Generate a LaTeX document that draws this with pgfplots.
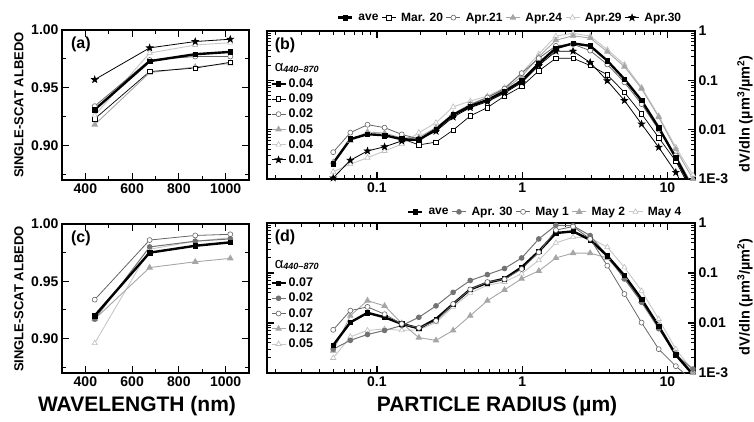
\documentclass[border=0pt]{standalone}
\usepackage{fontspec}
\setmainfont{Liberation Sans}
\usepackage{pgfplots}
\usepackage{pgfplotstable}
\pgfplotsset{compat=1.18}

\pgfdeclareplotmark{fstar}{%
  \pgfpathmoveto{\pgfpointpolar{90}{1.35\pgfplotmarksize}}%
  \pgfpathlineto{\pgfpointpolar{126}{0.55\pgfplotmarksize}}%
  \pgfpathlineto{\pgfpointpolar{162}{1.35\pgfplotmarksize}}%
  \pgfpathlineto{\pgfpointpolar{198}{0.55\pgfplotmarksize}}%
  \pgfpathlineto{\pgfpointpolar{234}{1.35\pgfplotmarksize}}%
  \pgfpathlineto{\pgfpointpolar{270}{0.55\pgfplotmarksize}}%
  \pgfpathlineto{\pgfpointpolar{306}{1.35\pgfplotmarksize}}%
  \pgfpathlineto{\pgfpointpolar{342}{0.55\pgfplotmarksize}}%
  \pgfpathlineto{\pgfpointpolar{18}{1.35\pgfplotmarksize}}%
  \pgfpathlineto{\pgfpointpolar{54}{0.55\pgfplotmarksize}}%
  \pgfpathclose\pgfusepathqfillstroke}

\pgfplotsset{
 base/.style={scale only axis, axis line style={line width=1.5pt},
   tick align=inside, tick pos=both,
   major tick length=7pt, minor tick length=4pt,
   every tick/.append style={black, line width=1.2pt},
   every minor tick/.append style={black, line width=1pt},
   ticklabel style={font=\bfseries\fontsize{14}{14}\selectfont},
   /pgf/number format/assume math mode=true,
   legend image code/.code={\draw[mark repeat=2,mark phase=2] plot coordinates {(0pt,0pt) (7pt,0pt) (14pt,0pt)};}},
 logb/.style={base, xmin=0.0175, xmax=15.5, ymin=0.001, ymax=1,
   xtick={0.01,0.1,1,10,100}, xticklabels={0.01,0.1,1,10,100},
   minor xtick={0.02,0.03,0.04,0.05,0.06,0.07,0.08,0.09,0.2,0.3,0.4,0.5,0.6,0.7,0.8,0.9,2,3,4,5,6,7,8,9},
   ytick={0.0001,0.001,0.01,0.1,1}, yticklabels={1E-4,1E-3,0.01,0.1,1},
   minor ytick={0.002,0.003,0.004,0.005,0.006,0.007,0.008,0.009,0.02,0.03,0.04,0.05,0.06,0.07,0.08,0.09,0.2,0.3,0.4,0.5,0.6,0.7,0.8,0.9},
   yticklabel pos=right},
 alb/.style={base, xmin=300, xmax=1100, ymin=0.87, ymax=1.0,
   xtick={400,600,800,1000}, xticklabels={400,600,800,1000},
   minor xtick={300,500,700,900,1100},
   ytick={0.90,0.95,1.00}, yticklabels={0.90,0.95,1.00},
   minor ytick={0.875,0.925,0.975}},
 aveS/.style={black, line width=2.4pt, mark=square*, mark size=2.2pt, mark options={solid,line width=0.5pt}},
 marS/.style={black, line width=0.7pt, mark=square*, mark size=2.2pt, mark options={fill=white,line width=0.6pt}},
 aprAS/.style={black!60, line width=0.8pt, mark=*, mark size=2.5pt, mark options={fill=white,draw=black!60,line width=0.6pt}},
 aprBS/.style={black!35, line width=0.9pt, mark=triangle*, mark size=3pt, mark options={fill=black!35,draw=black!35}},
 aprCS/.style={black!22, line width=0.9pt, mark=triangle*, mark size=3pt, mark options={fill=white,draw=black!25,line width=0.6pt}},
 aprDS/.style={black, line width=0.8pt, mark=fstar, mark size=2.4pt, mark options={fill=black}},
 a30S/.style={black!55, line width=1pt, mark=*, mark size=2.3pt, mark options={fill=black!55,draw=black!55}},
 m1S/.style={black!60, line width=0.8pt, mark=*, mark size=2.5pt, mark options={fill=white,draw=black!60,line width=0.6pt}},
 m2S/.style={black!35, line width=0.9pt, mark=triangle*, mark size=3pt, mark options={fill=black!35,draw=black!35}},
 m4S/.style={black!22, line width=0.9pt, mark=triangle*, mark size=3pt, mark options={fill=white,draw=black!25,line width=0.6pt}},
}

\pgfplotstableread{
w ave mar apr21 apr24 apr29 apr30
440 0.931 0.923 0.934 0.918 0.926 0.957
675 0.973 0.964 0.974 0.963 0.980 0.9845
870 0.979 0.967 0.977 0.968 0.987 0.990
1020 0.981 0.972 0.977 0.971 0.989 0.992
}\tabA

\pgfplotstableread{
w ave apr30 may1 may2 may4
440 0.920 0.917 0.934 0.917 0.896
675 0.975 0.980 0.986 0.962 0.978
870 0.981 0.985 0.990 0.967 0.985
1020 0.984 0.987 0.991 0.970 0.988
}\tabC

\pgfplotstableread{
r ave mar apr21 apr24 apr29 apr30
0.0500 0.0021 0.0020 0.0035 0.0022 0.0014 0.00105
0.0656 0.0064 0.0067 0.0087 0.0060 0.0020 0.0024
0.0861 0.0081 0.0080 0.0126 0.0090 0.0027 0.0037
0.1129 0.0077 0.0075 0.0110 0.0085 0.0037 0.0045
0.1482 0.0064 0.0066 0.0080 0.0068 0.0051 0.0059
0.1944 0.0062 0.0049 0.0065 0.0070 0.0087 0.0062
0.2551 0.0102 0.0056 0.0100 0.0110 0.0138 0.0093
0.3347 0.020 0.0098 0.020 0.021 0.029 0.018
0.4392 0.030 0.019 0.032 0.033 0.038 0.028
0.5762 0.040 0.028 0.045 0.045 0.048 0.037
0.7561 0.060 0.048 0.068 0.065 0.071 0.055
0.9920 0.098 0.075 0.14 0.12 0.14 0.09
1.3016 0.22 0.156 0.28 0.30 0.34 0.20
1.7078 0.45 0.28 0.50 0.65 0.79 0.39
2.2407 0.56 0.28 0.54 0.80 0.90 0.39
2.9400 0.50 0.20 0.40 0.72 0.79 0.23
3.8575 0.25 0.13 0.21 0.38 0.42 0.098
5.0613 0.106 0.057 0.091 0.19 0.21 0.039
6.6407 0.039 0.021 0.033 0.068 0.072 0.013
8.7131 0.011 0.0069 0.010 0.018 0.019 0.0044
11.432 0.0027 0.0023 0.0030 0.0040 0.0044 0.00136
15.000 0.0006 0.0005 0.0007 0.0010 0.0012 0.0003
}\tabB

\pgfplotstableread{
r ave apr30 may1 may2 may4
0.0500 0.0036 0.0030 0.0073 0.0028 0.0020
0.0656 0.0103 0.0045 0.0177 0.014 0.0053
0.0861 0.016 0.0059 0.021 0.028 0.0071
0.1129 0.013 0.0071 0.015 0.022 0.0076
0.1482 0.0096 0.0089 0.0096 0.0099 0.0071
0.1944 0.0078 0.013 0.0080 0.0051 0.0073
0.2551 0.012 0.022 0.011 0.0045 0.0103
0.3347 0.024 0.041 0.024 0.0071 0.021
0.4392 0.047 0.071 0.047 0.014 0.040
0.5762 0.064 0.093 0.066 0.028 0.057
0.7561 0.077 0.123 0.075 0.046 0.066
0.9920 0.13 0.20 0.12 0.077 0.097
1.3016 0.27 0.48 0.26 0.11 0.18
1.7078 0.63 0.90 0.72 0.20 0.40
2.2407 0.68 0.88 0.85 0.25 0.52
2.9400 0.46 0.56 0.48 0.25 0.50
3.8575 0.22 0.22 0.14 0.20 0.33
5.0613 0.089 0.076 0.038 0.08 0.13
6.6407 0.030 0.026 0.0102 0.028 0.044
8.7131 0.0087 0.0077 0.0030 0.009 0.012
11.432 0.0023 0.0023 0.00137 0.0025 0.0030
15.000 0.00093 0.0012 0.0007 0.0010 0.0011
}\tabD

\newcommand{\lab}{\bfseries\fontsize{21}{21}\selectfont}
\newcommand{\ylab}{\bfseries\fontsize{13}{13}\selectfont}
\newcommand{\rlab}{\bfseries\fontsize{14.5}{14.5}\selectfont}
\newcommand{\pl}{\bfseries\fontsize{16}{16}\selectfont}
\newcommand{\alphahead}{{\fontsize{15}{15}\selectfont α}\raisebox{-0.35ex}{\fontsize{9}{9}\selectfont\bfseries\itshape 440–870}}

\begin{document}
\begin{tikzpicture}
\path[use as bounding box] (0pt,0pt) rectangle (754pt,422pt);

% ---------- (a)
\begin{axis}[alb, at={(62pt,242pt)}, anchor=south west, width=187pt, height=150pt]
\addplot[aprBS] table[x=w,y=apr24]{\tabA};
\addplot[marS] table[x=w,y=mar]{\tabA};
\addplot[aprCS] table[x=w,y=apr29]{\tabA};
\addplot[aprAS] table[x=w,y=apr21]{\tabA};
\addplot[aveS] table[x=w,y=ave]{\tabA};
\addplot[aprDS] table[x=w,y=apr30]{\tabA};
\node[anchor=north west, font=\pl] at (rel axis cs:0.03,0.98) {(a)};
\end{axis}

% ---------- (b)
\begin{axis}[xmode=log, ymode=log, logb, at={(267pt,243pt)}, anchor=south west, width=428pt, height=148pt,
  legend style={at={(0.005,0.70)}, anchor=north west, draw=none, fill=none,
    font=\bfseries\fontsize{12.5}{14.5}\selectfont, inner sep=1pt, row sep=1pt},
  legend cell align=left]
\addlegendimage{aveS}\addlegendentry{0.04}
\addlegendimage{marS}\addlegendentry{0.09}
\addlegendimage{aprAS}\addlegendentry{0.02}
\addlegendimage{aprBS}\addlegendentry{0.05}
\addlegendimage{aprCS}\addlegendentry{0.04}
\addlegendimage{aprDS}\addlegendentry{0.01}
\addplot[aprCS, forget plot] table[x=r,y=apr29]{\tabB};
\addplot[aprBS, forget plot] table[x=r,y=apr24]{\tabB};
\addplot[aprAS, forget plot] table[x=r,y=apr21]{\tabB};
\addplot[marS, forget plot] table[x=r,y=mar]{\tabB};
\addplot[aprDS, forget plot] table[x=r,y=apr30]{\tabB};
\addplot[aveS, forget plot] table[x=r,y=ave]{\tabB};
\node[anchor=north west, font=\pl] at (rel axis cs:0.01,0.98) {(b)};
\node[anchor=west] at (rel axis cs:0.01,0.75) {\alphahead};
\end{axis}
\begin{axis}[scale only axis, hide axis, at={(267pt,243pt)}, anchor=south west, width=428pt, height=148pt,
  xmin=0, xmax=1, ymin=0, ymax=1,
  legend image code/.code={\draw[mark repeat=2,mark phase=2] plot coordinates {(0pt,0pt) (7pt,0pt) (14pt,0pt)};},
  legend columns=-1,
  legend style={at={(0.568,1.035)}, anchor=south, draw=none, fill=none,
    font=\bfseries\fontsize{12}{12}\selectfont, inner sep=1pt,
    /tikz/every even column/.append style={column sep=1pt},
    /tikz/every odd column/.append style={column sep=3pt}}]
\addlegendimage{aveS}\addlegendentry{ave}
\addlegendimage{marS}\addlegendentry{Mar. 20}
\addlegendimage{aprAS}\addlegendentry{Apr.21}
\addlegendimage{aprBS}\addlegendentry{Apr.24}
\addlegendimage{aprCS}\addlegendentry{Apr.29}
\addlegendimage{aprDS}\addlegendentry{Apr.30}
\end{axis}

% ---------- (c)
\begin{axis}[alb, at={(62pt,49pt)}, anchor=south west, width=187pt, height=149pt]
\addplot[m4S] table[x=w,y=may4]{\tabC};
\addplot[m2S] table[x=w,y=may2]{\tabC};
\addplot[m1S] table[x=w,y=may1]{\tabC};
\addplot[a30S] table[x=w,y=apr30]{\tabC};
\addplot[aveS] table[x=w,y=ave]{\tabC};
\node[anchor=north west, font=\pl] at (rel axis cs:0.03,0.98) {(c)};
\end{axis}

% ---------- (d)
\begin{axis}[xmode=log, ymode=log, logb, at={(267pt,49pt)}, anchor=south west, width=428pt, height=150pt,
  legend style={at={(0.005,0.655)}, anchor=north west, draw=none, fill=none,
    font=\bfseries\fontsize{12.5}{14.5}\selectfont, inner sep=1pt, row sep=1pt},
  legend cell align=left]
\addlegendimage{aveS}\addlegendentry{0.07}
\addlegendimage{a30S}\addlegendentry{0.02}
\addlegendimage{m1S}\addlegendentry{0.07}
\addlegendimage{m2S}\addlegendentry{0.12}
\addlegendimage{m4S}\addlegendentry{0.05}
\addplot[m4S, forget plot] table[x=r,y=may4]{\tabD};
\addplot[m2S, forget plot] table[x=r,y=may2]{\tabD};
\addplot[a30S, forget plot] table[x=r,y=apr30]{\tabD};
\addplot[aveS, forget plot] table[x=r,y=ave]{\tabD};
\addplot[m1S, forget plot] table[x=r,y=may1]{\tabD};
\node[anchor=north west, font=\pl] at (rel axis cs:0.01,0.98) {(d)};
\node[anchor=west] at (rel axis cs:0.01,0.72) {\alphahead};
\end{axis}
\begin{axis}[scale only axis, hide axis, at={(267pt,49pt)}, anchor=south west, width=428pt, height=150pt,
  xmin=0, xmax=1, ymin=0, ymax=1,
  legend image code/.code={\draw[mark repeat=2,mark phase=2] plot coordinates {(0pt,0pt) (7pt,0pt) (14pt,0pt)};},
  legend columns=-1,
  legend style={at={(0.65,1.02)}, anchor=south, draw=none, fill=none,
    font=\bfseries\fontsize{12}{12}\selectfont, inner sep=1pt,
    /tikz/every even column/.append style={column sep=1pt},
    /tikz/every odd column/.append style={column sep=3pt}}]
\addlegendimage{aveS}\addlegendentry{ave}
\addlegendimage{a30S}\addlegendentry{Apr. 30}
\addlegendimage{m1S}\addlegendentry{May 1}
\addlegendimage{m2S}\addlegendentry{May 2}
\addlegendimage{m4S}\addlegendentry{May 4}
\end{axis}

% ---------- labels
\node[rotate=90, font=\ylab] at (19pt,317pt) {SINGLE-SCAT ALBEDO};
\node[rotate=90, font=\ylab] at (19pt,123pt) {SINGLE-SCAT ALBEDO};
\node[font=\lab] at (137pt,16pt) {WAVELENGTH (nm)};
\node[font=\lab] at (497pt,16pt) {PARTICLE RADIUS (µm)};
\node[rotate=90, font=\rlab] at (745pt,308pt) {dV/dln (µm\textsuperscript{3}/µm\textsuperscript{2})};
\node[rotate=90, font=\rlab] at (745pt,125pt) {dV/dln (µm\textsuperscript{3}/µm\textsuperscript{2})};
\end{tikzpicture}
\end{document}
